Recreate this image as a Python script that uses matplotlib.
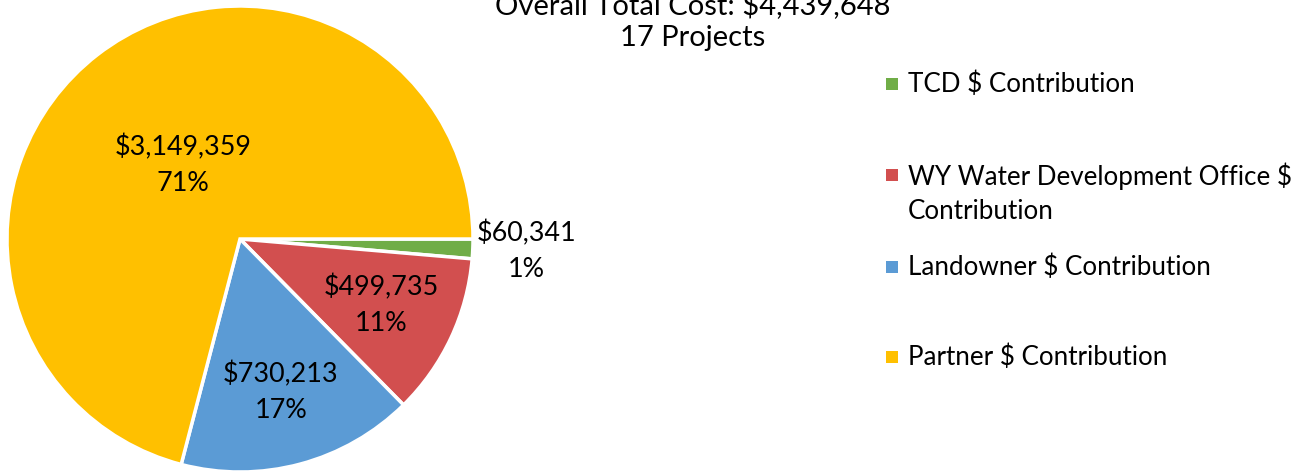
import numpy as np
import matplotlib.pyplot as plt
from matplotlib.patches import Rectangle

# ============= Data
categories = ['TCD $ Contribution', 'WY Water Development Office $ Contribution',
              'Landowner $ Contribution', 'Partner $ Contribution']
legend_labels = ['TCD $ Contribution', 'WY Water Development Office $\nContribution',
                 'Landowner $ Contribution', 'Partner $ Contribution']
values = [60341, 499735, 730213, 3149359]
percents = [1, 11, 17, 71]   # as printed on the chart
colors = ['#70AD47', '#D24F4F', '#5B9BD5', '#FFC000']
title_lines = ['Overall Total Cost: $4,439,648', '17 Projects']

# label distance from centre (fraction of radius), per slice
label_dist = [1.23, 0.67, 0.68, 0.40]

plt.rcParams['font.family'] = ['Lato', 'DejaVu Sans']

W, H = 1314, 472
fig = plt.figure(figsize=(W / 100, H / 100), dpi=100)
ax = fig.add_axes([7 / W, 0 / H, 466 / W, 466 / H])

wedges, _ = ax.pie(values, colors=colors, startangle=0, counterclock=False,
                   radius=1, wedgeprops=dict(edgecolor='white', linewidth=2.5))
for w in wedges:
    w.set_clip_on(False)
ax.set_xlim(-1, 1)
ax.set_ylim(-1, 1)
ax.set_aspect('equal')
ax.axis('off')

for w, v, p, d in zip(wedges, values, percents, label_dist):
    mid = np.deg2rad((w.theta1 + w.theta2) / 2)
    ax.text(d * np.cos(mid), d * np.sin(mid), '${:,}\n{}%'.format(v, p),
            ha='center', va='center', fontsize=19.4, linespacing=1.55, clip_on=False)

# title (partly outside the top edge, as in the original)
fig.text(693 / W, 1 - 5 / H, title_lines[0], ha='center', va='center', fontsize=21)
fig.text(693 / W, 1 - 38 / H, title_lines[1], ha='center', va='center', fontsize=21)

# legend
leg_y = [84, 175, 267, 357]
for lab, c, y in zip(legend_labels, colors, leg_y):
    fig.add_artist(Rectangle((886 / W, 1 - (y + 6) / H), 12 / W, 12 / H,
                             transform=fig.transFigure, facecolor=c, edgecolor='none'))
    ty = y + 18 if '\n' in lab else y
    fig.text(908 / W, 1 - ty / H, lab, ha='left', va='center',
             fontsize=18.7, linespacing=1.45)

fig.savefig('out.png', dpi=100)
